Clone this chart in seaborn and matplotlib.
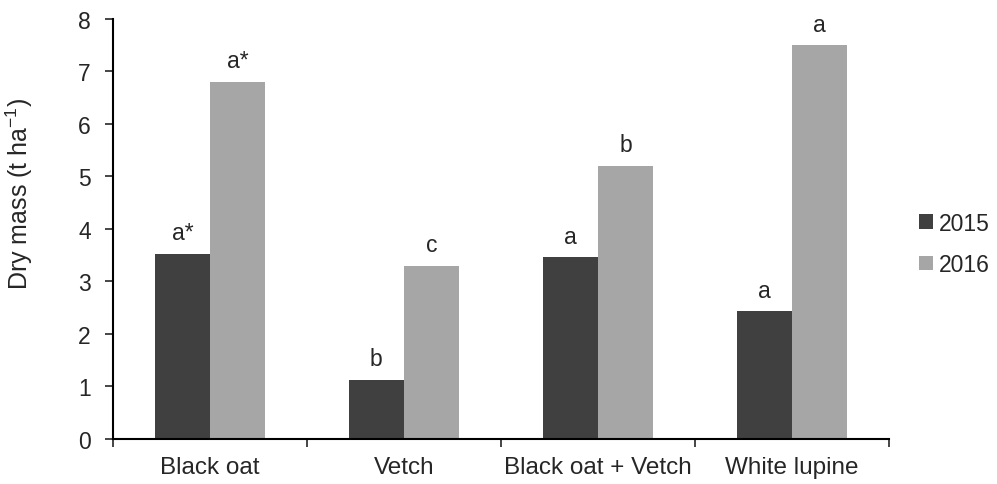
import pandas as pd
import matplotlib.pyplot as plt
import seaborn as sns

# -----------------------------------
# Data
# -----------------------------------
crops = ["Black oat", "Vetch", "Black oat + Vetch", "White lupine"]
years = ["2015", "2016"]
mass_2015 = [3.52, 1.12, 3.46, 2.43]
mass_2016 = [6.80, 3.30, 5.20, 7.50]
letters_2015 = ["a*", "b", "a", "a"]
letters_2016 = ["a*", "c", "b", "a"]

df = pd.DataFrame({
    "crop": crops * 2,
    "year": [years[0]] * len(crops) + [years[1]] * len(crops),
    "mass": mass_2015 + mass_2016,
    "letter": letters_2015 + letters_2016,
})

# Style settings
sns.set_style("white")
plt.rcParams["font.family"] = ["Liberation Sans", "DejaVu Sans"]
plt.rcParams["mathtext.fontset"] = "custom"
plt.rcParams["mathtext.rm"] = "Liberation Sans"

fig = plt.figure(figsize=(9.97, 4.85), dpi=100)
ax = fig.add_axes([0.1133, 0.0928, 0.7784, 0.866])

sns.barplot(data=df, x="crop", y="mass", hue="year", order=crops,
            hue_order=years, palette=["#404040", "#a6a6a6"],
            width=0.57, gap=0, saturation=1, linewidth=0, ax=ax)

# significance letters above bars
for cont, year in zip(ax.containers, years):
    labs = df[df["year"] == year]["letter"].tolist()
    ax.bar_label(cont, labels=labs, padding=7, fontsize=16.5)

ax.set_ylim(0, 8)
ax.set_xlim(-0.5, len(crops) - 0.5)
ax.set_yticks(range(0, 9))
ax.tick_params(axis="y", labelsize=16.5, length=6, width=1.2, direction="out",
               left=True, pad=10)

# category boundaries as major ticks, labels on minor ticks
ax.set_xticks([i - 0.5 for i in range(len(crops) + 1)])
ax.set_xticklabels([])
ax.set_xticks(range(len(crops)), minor=True)
ax.set_xticklabels(crops, minor=True, fontsize=17.5)
ax.tick_params(axis="x", which="major", length=6, width=1.2, direction="out",
               bottom=True)
ax.tick_params(axis="x", which="minor", length=0, pad=12)

ax.set_xlabel("")
ax.set_ylabel("Dry mass (t ha$^{\\mathregular{-1}}$)", fontsize=18)
ax.yaxis.set_label_coords(-0.101, 0.586)

for side in ["top", "right"]:
    ax.spines[side].set_visible(False)
for side in ["left", "bottom"]:
    ax.spines[side].set_color("black")
    ax.spines[side].set_linewidth(1.5)

ax.legend(loc="center left", bbox_to_anchor=(919 / 997, 0.495),
          bbox_transform=fig.transFigure, frameon=False, borderpad=0,
          borderaxespad=0, fontsize=16.5, handlelength=0.6, handleheight=0.6,
          handletextpad=0.25, labelspacing=0.8)

fig.savefig("out.png", dpi=100)
